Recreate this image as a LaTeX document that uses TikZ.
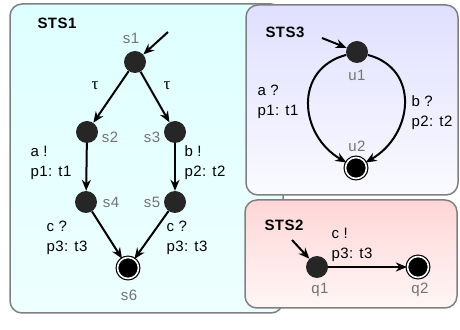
\documentclass[tikz,border=0pt]{standalone}
\usepackage{fontspec}
\setmainfont[LetterSpace=3]{Liberation Sans}
\newfontfamily\greekserif{Liberation Serif}
\usetikzlibrary{arrows.meta}
\definecolor{stsonetop}{RGB}{222,255,255}
\definecolor{stsonebot}{RGB}{238,255,255}
\definecolor{ststhreetop}{RGB}{224,224,255}
\definecolor{ststhreebot}{RGB}{250,250,255}
\definecolor{ststwotop}{RGB}{255,214,214}
\definecolor{ststwobot}{RGB}{255,246,246}
\begin{document}
\begin{tikzpicture}[x=1pt, y=1pt,
	every node/.style={font=\fontsize{15}{20}\selectfont},
	state/.style={circle, fill=black!85, minimum size=22pt, inner sep=0pt},
	final/.style={circle, fill=black, draw=black, double=white, double distance=1.6pt, line width=1.2pt, minimum size=21pt, inner sep=0pt},
	sname/.style={text=black!55},
	title/.style={font=\fontsize{15}{20}\selectfont\bfseries, anchor=west},
	trans/.style={-{Stealth[length=11pt, width=9pt]}, line width=2pt},
	elabel/.style={align=left, anchor=west},
	box/.style={draw=black!50, line width=1.5pt, rounded corners=12pt}]
	\useasboundingbox (0,0) rectangle (460,329);
	% boxes
	\path[box, top color=stsonetop, bottom color=stsonebot] (10,16) rectangle (283,325);
	\path[box, top color=ststhreetop, bottom color=ststhreebot] (246,134) rectangle (458,324);
	\path[box, top color=ststwotop, bottom color=ststwobot] (245,21) rectangle (457,129);
	\node[title] (sts1) at (34,306) {STS1};
	\node[title] (sts3) at (262,297) {STS3};
	\node[title] (sts2) at (261,104) {STS2};
	% STS1
	\node[state] (s1) at (135,267) {};
	\node[state] (s2) at (87,197) {};
	\node[state] (s3) at (175,197) {};
	\node[state] (s4) at (86,127) {};
	\node[state] (s5) at (175,127) {};
	\node[final] (s6) at (128,61) {};
	\node[sname] (s1-name) at (131,291) {s1};
	\node[sname] (s2-name) at (110,192) {s2};
	\node[sname] (s3-name) at (152,192) {s3};
	\node[sname] (s4-name) at (111,127) {s4};
	\node[sname] (s5-name) at (152,127) {s5};
	\node[sname] (s6-name) at (129,34) {s6};
	\coordinate (s1-in) at (168,297);
	\draw[trans] (s1-in) -- (s1);
	\draw[trans] (s1) -- (s2);
	\draw[trans] (s1) -- (s3);
	\draw[trans] (s2) -- (s4);
	\draw[trans] (s3) -- (s5);
	\draw[trans] (s4) -- (s6);
	\draw[trans] (s5) -- (s6);
	\node (tau-l) at (95,243) {\greekserif\fontsize{17}{20}\selectfont τ};
	\node (tau-r) at (167,243) {\greekserif\fontsize{17}{20}\selectfont τ};
	\node[elabel] (a-out) at (27,166) {a !\\p1: t1};
	\node[elabel] (b-out) at (181,166) {b !\\p2: t2};
	\node[elabel] (c-in-l) at (43,91) {c ?\\p3: t3};
	\node[elabel] (c-in-r) at (163,91) {c ?\\p3: t3};
	% STS3
	\node[state] (u1) at (357,277) {};
	\node[final] (u2) at (356,161) {};
	\node[sname] (u1-name) at (357,254) {u1};
	\node[sname] (u2-name) at (357,183) {u2};
	\coordinate (u1-in) at (322,291);
	\draw[trans] (u1-in) -- (u1);
	\draw[trans] (u1) to[out=195, in=150, looseness=1.3] (u2);
	\draw[trans] (u1) to[out=-15, in=30, looseness=1.3] (u2);
	\node[elabel] (a-in) at (254,227) {a ?\\p1: t1};
	\node[elabel] (b-in) at (408,216) {b ?\\p2: t2};
	% STS2
	\node[state] (q1) at (317,62) {};
	\node[final] (q2) at (418,62) {};
	\node[sname] (q1-name) at (320,39) {q1};
	\node[sname] (q2-name) at (420,39) {q2};
	\coordinate (q1-in) at (292,89);
	\draw[trans] (q1-in) -- (q1);
	\draw[trans] (q1) -- (q2);
	\node[elabel] (c-out) at (328,84) {c !\\p3: t3};
\end{tikzpicture}
\end{document}
